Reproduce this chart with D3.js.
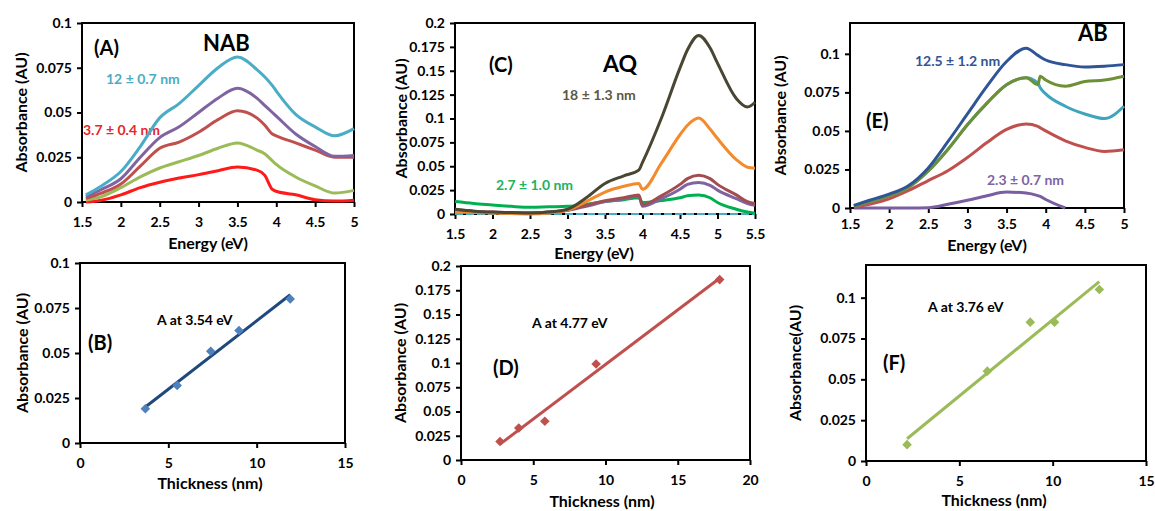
<!DOCTYPE html>
<html>
<head>
<meta charset="utf-8">
<script src="https://cdn.jsdelivr.net/npm/d3@7"></script>
<style>
body { margin: 0; background: #fff; }
svg text { font-family: Lato, "Open Sans", sans-serif; font-weight: bold; fill: #000; }
</style>
</head>
<body>
<svg id="chart" width="1155" height="511"></svg>
<script>
// (A) NAB spectra
var energyA = [1.55, 1.75, 2, 2.25, 2.5, 2.75, 3, 3.25, 3.5, 3.75, 3.85, 3.95, 4, 4.25, 4.5, 4.75, 5];
var nabCyan   = [0.004, 0.009, 0.017, 0.031, 0.047, 0.055, 0.065, 0.075, 0.081, 0.074, 0.070, 0.065, 0.062, 0.049, 0.042, 0.037, 0.041];
var nabPurple = [0.003, 0.007, 0.013, 0.025, 0.036, 0.042, 0.050, 0.058, 0.0635, 0.058, 0.054, 0.050, 0.048, 0.038, 0.031, 0.0255, 0.026];
var nabBrown  = [0.002, 0.005, 0.010, 0.020, 0.030, 0.0335, 0.039, 0.046, 0.051, 0.047, 0.043, 0.038, 0.037, 0.033, 0.029, 0.025, 0.025];
var nabGreen  = [0.001, 0.003, 0.008, 0.014, 0.019, 0.0225, 0.026, 0.030, 0.033, 0.029, 0.027, 0.023, 0.021, 0.014, 0.009, 0.005, 0.0065];
var nabRed    = [0, 0.001, 0.004, 0.008, 0.011, 0.0134, 0.0153, 0.0175, 0.0195, 0.0178, 0.015, 0.007, 0.006, 0.004, 0.0013, 0.0005, 0.001];

// (C) AQ spectra
var energyC = [1.5, 1.75, 2, 2.25, 2.5, 2.75, 3, 3.25, 3.5, 3.75, 3.95, 4, 4.25, 4.5, 4.6, 4.75, 4.9, 5, 5.25, 5.4, 5.5];
var aqDark   = [0.005, 0.003, 0.002, 0.0015, 0.001, 0.002, 0.005, 0.017, 0.032, 0.040, 0.046, 0.054, 0.100, 0.153, 0.172, 0.187, 0.174, 0.158, 0.121, 0.112, 0.117];
var aqOrange = [0.002, 0.0015, 0.001, 0.0005, 0, 0.001, 0.004, 0.013, 0.023, 0.029, 0.032, 0.026, 0.053, 0.083, 0.093, 0.1005, 0.089, 0.079, 0.057, 0.049, 0.048];
var aqBrown  = [0.005, 0.003, 0.002, 0.0015, 0.001, 0.002, 0.004, 0.009, 0.014, 0.017, 0.020, 0.0095, 0.019, 0.031, 0.037, 0.0405, 0.037, 0.031, 0.020, 0.013, 0.011];
var aqPurple = [0.003, 0.002, 0.0015, 0.001, 0.001, 0.002, 0.004, 0.008, 0.013, 0.016, 0.019, 0.008, 0.016, 0.026, 0.031, 0.033, 0.030, 0.025, 0.016, 0.011, 0.009];
var aqGreen  = [0.013, 0.011, 0.0095, 0.008, 0.007, 0.0075, 0.008, 0.010, 0.013, 0.015, 0.017, 0.012, 0.014, 0.017, 0.019, 0.0198, 0.017, 0.012, 0.005, 0.002, 0.0007];
var aqBase   = [0, 0, 0, 0, 0, 0, 0, 0, 0, 0, 0, 0, 0, 0, 0, 0, 0, 0, 0, 0, 0];

// (E) AB spectra
var energyE = [1.55, 1.75, 2, 2.25, 2.5, 2.75, 3, 3.25, 3.5, 3.75, 3.9, 3.93, 4, 4.25, 4.5, 4.75, 5];
var abBlue   = [0.0017, 0.005, 0.009, 0.0146, 0.026, 0.043, 0.061, 0.079, 0.095, 0.1037, 0.099, 0.098, 0.096, 0.093, 0.0915, 0.092, 0.093];
var abOlive  = [0.0013, 0.004, 0.008, 0.0135, 0.024, 0.038, 0.054, 0.068, 0.080, 0.0845, 0.080, 0.0855, 0.083, 0.079, 0.082, 0.083, 0.0855];
var abCyan   = [0.0013, 0.004, 0.008, 0.0135, 0.024, 0.038, 0.054, 0.068, 0.080, 0.0845, 0.081, 0.078, 0.074, 0.066, 0.061, 0.058, 0.066];
var abRed    = [0.0006, 0.0024, 0.006, 0.0114, 0.0178, 0.0242, 0.0328, 0.0425, 0.051, 0.0545, 0.053, 0.052, 0.050, 0.0436, 0.0393, 0.0367, 0.0378];
var abPurple = [0, 0, 0, 0, 0.0002, 0.0024, 0.005, 0.008, 0.0103, 0.0097, 0.008, 0.0075, 0.0055, 0, null, null, null];

// (B) (D) (F) absorbance vs thickness
var thickB = [3.7, 5.5, 7.4, 9.0, 11.9];
var absB   = [0.019, 0.032, 0.051, 0.0625, 0.080];
var thickD = [2.7, 4.0, 5.8, 9.35, 17.9];
var absD   = [0.019, 0.033, 0.040, 0.099, 0.186];
var thickF = [2.2, 6.5, 8.8, 10.1, 12.5];
var absF   = [0.010, 0.055, 0.085, 0.085, 0.105];

// tick labels
var energyTicks15to5 = [1.5, 2, 2.5, 3, 3.5, 4, 4.5, 5];
var energyTicks15to55 = [1.5, 2, 2.5, 3, 3.5, 4, 4.5, 5, 5.5];
var absTicks01 = [0, 0.025, 0.05, 0.075, 0.1];
var absTicks02 = [0, 0.025, 0.05, 0.075, 0.1, 0.125, 0.15, 0.175, 0.2];
var thickTicks15 = [0, 5, 10, 15];
var thickTicks20 = [0, 5, 10, 15, 20];

var svg = d3.select('#chart');
svg.append('rect').attr('width', 1155).attr('height', 511).attr('fill', '#fff');

function makePanel(p) {
    var g = svg.append('g');
    var x = d3.scaleLinear().domain(p.xDomain).range([p.left, p.right]);
    var y = d3.scaleLinear().domain(p.yDomain).range([p.bottom, p.top]);
    var fmt = d3.format('~g');

    var xa = g.append('g').attr('transform', 'translate(0,' + p.bottom + ')')
        .call(d3.axisBottom(x).tickValues(p.xTicks).tickSize(5).tickPadding(p.xPad || 10).tickFormat(fmt));
    var ya = g.append('g').attr('transform', 'translate(' + p.left + ',0)')
        .call(d3.axisLeft(y).tickValues(p.yTicks).tickSize(5).tickPadding(5).tickFormat(fmt));
    [xa, ya].forEach(function(a) {
        a.select('.domain').remove();
        a.selectAll('line').attr('stroke', '#000').attr('stroke-width', 2);
        a.selectAll('text').attr('font-size', 14).attr('font-family', null).attr('fill', '#000');
    });

    g.append('rect')
        .attr('x', p.left).attr('y', p.top)
        .attr('width', p.right - p.left).attr('height', p.bottom - p.top)
        .attr('fill', 'none').attr('stroke', '#000').attr('stroke-width', 2);

    g.append('text')
        .attr('x', p.xTitleX).attr('y', p.xTitleY)
        .attr('text-anchor', 'middle').attr('font-size', 16)
        .text(p.xTitle);
    g.append('text')
        .attr('transform', 'translate(' + p.yTitleX + ',' + ((p.top + p.bottom) / 2) + ') rotate(-90)')
        .attr('text-anchor', 'middle').attr('dy', '0.35em').attr('font-size', 16)
        .text(p.yTitle);

    // annotations go under the curves
    p.notes.forEach(function(n) {
        g.append('text')
            .attr('x', n.x).attr('y', n.y)
            .attr('font-size', n.size)
            .style('fill', n.color || '#000')
            .text(n.text);
    });

    return { g: g, x: x, y: y };
}

function drawSpectra(panel, energy, series) {
    var line = d3.line()
        .defined(function(d) { return d[1] !== null; })
        .x(function(d) { return panel.x(d[0]); })
        .y(function(d) { return panel.y(d[1]); })
        .curve(d3.curveMonotoneX);
    series.forEach(function(s) {
        var pts = energy.map(function(e, i) { return [e, s.values[i]]; });
        panel.g.append('path')
            .datum(pts)
            .attr('d', line)
            .attr('fill', 'none')
            .attr('stroke', s.color)
            .attr('stroke-width', s.width || 3)
            .attr('stroke-linejoin', 'round')
            .attr('stroke-dasharray', s.dash || null);
    });
}

function drawFit(panel, xs, ys, lineColor, markColor) {
    var mx = d3.mean(xs), my = d3.mean(ys);
    var sxy = d3.sum(xs, function(v, i) { return (v - mx) * (ys[i] - my); });
    var sxx = d3.sum(xs, function(v) { return (v - mx) * (v - mx); });
    var slope = sxy / sxx, icpt = my - slope * mx;
    var ext = d3.extent(xs);

    panel.g.append('line')
        .attr('x1', panel.x(ext[0])).attr('y1', panel.y(icpt + slope * ext[0]))
        .attr('x2', panel.x(ext[1])).attr('y2', panel.y(icpt + slope * ext[1]))
        .attr('stroke', lineColor).attr('stroke-width', 3);

    panel.g.selectAll('.mark').data(xs).enter()
        .append('path')
        .attr('d', d3.symbol().type(d3.symbolSquare).size(46))
        .attr('transform', function(d, i) {
            return 'translate(' + panel.x(d) + ',' + panel.y(ys[i]) + ') rotate(45)';
        })
        .attr('fill', markColor);
}

// top row
var pA = makePanel({
    left: 82, right: 354, top: 23, bottom: 202,
    xDomain: [1.5, 5], yDomain: [0, 0.1], xTicks: energyTicks15to5, yTicks: absTicks01,
    xTitle: 'Energy (eV)', xTitleX: 208, xTitleY: 249,
    yTitle: 'Absorbance (AU)', yTitleX: 21,
    notes: [
        { text: '(A)', x: 94, y: 55, size: 20 },
        { text: 'NAB', x: 203, y: 51, size: 22 },
        { text: '12 \u00b1 0.7 nm', x: 106, y: 84, size: 14, color: '#4bacc6' },
        { text: '3.7 \u00b1 0.4 nm', x: 83, y: 135, size: 14, color: '#e8262a' }
    ]
});
drawSpectra(pA, energyA, [
    { values: nabRed, color: '#ff1a1a' },
    { values: nabGreen, color: '#9bbb59' },
    { values: nabBrown, color: '#c0504d' },
    { values: nabPurple, color: '#8064a2' },
    { values: nabCyan, color: '#4bacc6' }
]);

var pC = makePanel({
    left: 455, right: 755, top: 23, bottom: 214,
    xDomain: [1.5, 5.5], yDomain: [0, 0.2], xTicks: energyTicks15to55, yTicks: absTicks02,
    xTitle: 'Energy (eV)', xTitleX: 594, xTitleY: 259,
    yTitle: 'Absorbance (AU)', yTitleX: 401,
    notes: [
        { text: '(C)', x: 489, y: 72, size: 20 },
        { text: 'AQ', x: 603, y: 72, size: 23 },
        { text: '18 \u00b1 1.3 nm', x: 562, y: 100, size: 14, color: '#5c5842' },
        { text: '2.7 \u00b1 1.0 nm', x: 496, y: 190, size: 14, color: '#21b25f' }
    ]
});
drawSpectra(pC, energyC, [
    { values: aqBase, color: '#4bacc6', dash: '8,3', width: 2 },
    { values: aqGreen, color: '#00b050' },
    { values: aqPurple, color: '#8064a2' },
    { values: aqBrown, color: '#a24d4f' },
    { values: aqOrange, color: '#f38a2c' },
    { values: aqDark, color: '#4a4634' }
]);

var pE = makePanel({
    left: 850, right: 1124, top: 23, bottom: 208, xPad: 6,
    xDomain: [1.5, 5], yDomain: [0, 0.12], xTicks: energyTicks15to5, yTicks: absTicks01,
    xTitle: 'Energy (eV)', xTitleX: 987, xTitleY: 251,
    yTitle: 'Absorbance (AU)', yTitleX: 780,
    notes: [
        { text: 'AB', x: 1078, y: 41, size: 22 },
        { text: '(E)', x: 866, y: 128, size: 20 },
        { text: '12.5 \u00b1 1.2 nm', x: 915, y: 66, size: 14, color: '#2f5597' },
        { text: '2.3 \u00b1 0.7 nm', x: 987, y: 185, size: 14, color: '#8064a2' }
    ]
});
drawSpectra(pE, energyE, [
    { values: abPurple, color: '#7a5fa0' },
    { values: abRed, color: '#c0504d' },
    { values: abCyan, color: '#3fa5bd' },
    { values: abOlive, color: '#6e8f36' },
    { values: abBlue, color: '#2f5597' }
]);

// bottom row
var pB = makePanel({
    left: 80, right: 345, top: 263, bottom: 443,
    xDomain: [0, 15], yDomain: [0, 0.1], xTicks: thickTicks15, yTicks: absTicks01,
    xTitle: 'Thickness (nm)', xTitleX: 210, xTitleY: 489,
    yTitle: 'Absorbance (AU)', yTitleX: 22,
    notes: [
        { text: 'A at 3.54 eV', x: 157, y: 325, size: 14 },
        { text: '(B)', x: 88, y: 350, size: 20 }
    ]
});
drawFit(pB, thickB, absB, '#1f497d', '#4f81bd');

var pD = makePanel({
    left: 461, right: 750, top: 266, bottom: 460,
    xDomain: [0, 20], yDomain: [0, 0.2], xTicks: thickTicks20, yTicks: absTicks02,
    xTitle: 'Thickness (nm)', xTitleX: 602, xTitleY: 507,
    yTitle: 'Absorbance (AU)', yTitleX: 400,
    notes: [
        { text: 'A at 4.77 eV', x: 532, y: 328, size: 14 },
        { text: '(D)', x: 493, y: 375, size: 20 }
    ]
});
drawFit(pD, thickD, absD, '#c0504d', '#c0504d');

var pF = makePanel({
    left: 866, right: 1146, top: 265, bottom: 461,
    xDomain: [0, 15], yDomain: [0, 0.12], xTicks: thickTicks15, yTicks: absTicks01,
    xTitle: 'Thickness (nm)', xTitleX: 994, xTitleY: 506,
    yTitle: 'Absorbance(AU)', yTitleX: 795,
    notes: [
        { text: 'A at 3.76 eV', x: 928, y: 312, size: 14 },
        { text: '(F)', x: 883, y: 370, size: 20 }
    ]
});
drawFit(pF, thickF, absF, '#9bbb59', '#9bbb59');
</script>
</body>
</html>
